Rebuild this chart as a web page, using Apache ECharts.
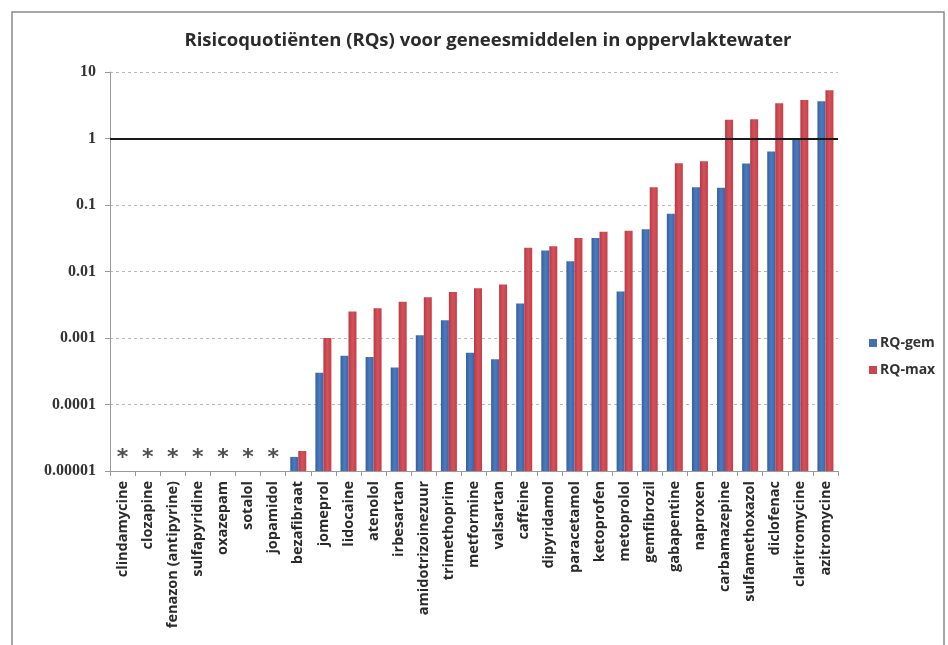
<!DOCTYPE html>
<html>
<head>
<meta charset="utf-8">
<script src="https://cdn.jsdelivr.net/npm/echarts@6/dist/echarts.min.js"></script>
<style>
  html, body { margin: 0; padding: 0; background: #ffffff; }
  #chart { width: 948px; height: 645px; }
</style>
</head>
<body>
<div id="chart"></div>
<script>
// Geneesmiddelen (substances), sorted by risk quotient
const categories = [
  'clindamycine', 'clozapine', 'fenazon (antipyrine)', 'sulfapyridine', 'oxazepam',
  'sotalol', 'jopamidol', 'bezafibraat', 'jomeprol', 'lidocaine', 'atenolol',
  'irbesartan', 'amidotrizoinezuur', 'trimethoprim', 'metformine', 'valsartan',
  'caffeine', 'dipyridamol', 'paracetamol', 'ketoprofen', 'metoprolol', 'gemfibrozil',
  'gabapentine', 'naproxen', 'carbamazepine', 'sulfamethoxazol', 'diclofenac',
  'claritromycine', 'azitromycine'
];

// Mean risk quotient (RQ-gem); null = not quantified
const rqGem = [
  null, null, null, null, null, null, null, 0.0000163, 0.0003, 0.00054, 0.00052,
  0.00036, 0.0011, 0.00185, 0.0006, 0.00048,
  0.0033, 0.0207, 0.0142, 0.032, 0.005, 0.043,
  0.074, 0.185, 0.181, 0.42, 0.64,
  0.98, 3.64
];

// Maximum risk quotient (RQ-max)
const rqMax = [
  null, null, null, null, null, null, null, 0.00002, 0.001, 0.0025, 0.0028,
  0.0035, 0.0041, 0.0049, 0.0056, 0.0064,
  0.0228, 0.024, 0.032, 0.0395, 0.041, 0.185,
  0.425, 0.456, 1.91, 1.95, 3.4,
  3.8, 5.3
];

// Substances marked with an asterisk (no RQ available)
const starred = ['clindamycine', 'clozapine', 'fenazon (antipyrine)', 'sulfapyridine', 'oxazepam', 'sotalol', 'jopamidol'];

// Y-axis tick labels per decade
const yTickLabels = ['0.00001', '0.0001', '0.001', '0.01', '0.1', '1', '10'];

const Y_MIN = 0.00001;
const Y_MAX = 10;
const BAR_W = 8;

const chart = echarts.init(document.getElementById('chart'), null, { renderer: 'canvas' });

const starData = categories.map(c => starred.includes(c) ? 0.0000158 : null);

// Bars on a log axis, rising from the axis minimum rather than from 1
function barRenderer(offset, color) {
  return function (params, api) {
    const v = api.value(1);
    if (v == null || isNaN(v)) return null;
    const top = api.coord([api.value(0), v]);
    const base = api.coord([api.value(0), Y_MIN]);
    const x = top[0] + offset;
    return {
      type: 'rect',
      shape: { x: x, y: top[1], width: BAR_W, height: base[1] - top[1] },
      style: {
        fill: new echarts.graphic.LinearGradient(0, 0, 1, 0, [
          { offset: 0, color: color[0] },
          { offset: 0.5, color: color[1] },
          { offset: 1, color: color[2] }
        ])
      }
    };
  };
}

const toPairs = arr => arr.map((v, i) => [i, v]).filter(p => p[1] != null);

chart.setOption({
  animation: false,
  backgroundColor: '#ffffff',
  graphic: [{
    type: 'rect',
    shape: { x: 12, y: 12, width: 932, height: 660 },
    style: { fill: 'none', stroke: '#8a8a8a', lineWidth: 1.5 },
    silent: true
  }],
  title: {
    text: 'Risicoquotiënten (RQs) voor geneesmiddelen in oppervlaktewater',
    left: 483,
    top: 26,
    textAlign: 'center',
    textStyle: { fontFamily: 'Open Sans', fontWeight: 700, fontSize: 18.5, color: '#2b2b2b' }
  },
  legend: {
    orient: 'vertical',
    left: 864,
    top: 331,
    itemWidth: 8,
    itemHeight: 8,
    itemGap: 13,
    icon: 'rect',
    data: ['RQ-gem', 'RQ-max'],
    textStyle: { fontFamily: 'Open Sans', fontWeight: 700, fontSize: 14, color: '#333333', padding: [0, 0, 0, -2] }
  },
  grid: { left: 110, right: 110, top: 72, bottom: 174, containLabel: false },
  xAxis: {
    type: 'category',
    data: categories,
    axisLine: { lineStyle: { color: '#9a9a9a', width: 1 } },
    axisTick: { show: true, length: 5, lineStyle: { color: '#9a9a9a' } },
    axisLabel: {
      rotate: 90,
      interval: 0,
      margin: 10,
      fontFamily: 'Open Sans',
      fontWeight: 700,
      fontSize: 14.5,
      color: '#2a2a2a'
    }
  },
  yAxis: {
    type: 'log',
    logBase: 10,
    min: Y_MIN,
    max: Y_MAX,
    axisLine: { show: true, lineStyle: { color: '#9a9a9a' } },
    axisTick: { show: true, length: 5, lineStyle: { color: '#9a9a9a' } },
    splitLine: { show: true, lineStyle: { color: '#b8b8b8', type: [3, 3], width: 1 } },
    axisLabel: {
      margin: 14,
      fontFamily: 'Liberation Serif',
      fontWeight: 'bold',
      fontSize: 16,
      color: '#333333',
      formatter: v => yTickLabels[Math.round(Math.log10(v)) + 5]
    }
  },
  series: [
    {
      name: 'RQ-gem',
      type: 'custom',
      data: toPairs(rqGem),
      encode: { x: 0, y: 1 },
      itemStyle: { color: '#4470b2' },
      renderItem: barRenderer(-BAR_W, ['#36609f', '#4a7bc0', '#3a66a8']),
      markLine: {
        silent: true,
        symbol: 'none',
        label: { show: false },
        lineStyle: { color: '#1a1a1a', width: 2, type: 'solid' },
        data: [{ yAxis: 1 }]
      },
      z: 2
    },
    {
      name: 'RQ-max',
      type: 'custom',
      data: toPairs(rqMax),
      encode: { x: 0, y: 1 },
      itemStyle: { color: '#cc4650' },
      renderItem: barRenderer(0, ['#b83a44', '#d6515a', '#c2404a']),
      z: 2
    },
    {
      name: 'niet bepaald',
      type: 'scatter',
      data: starData,
      symbolSize: 0,
      label: {
        show: true,
        position: 'inside',
        formatter: '*',
        fontFamily: 'DejaVu Sans',
        fontWeight: 'bold',
        fontSize: 22,
        color: '#222222'
      }
    }
  ]
});
</script>
</body>
</html>
